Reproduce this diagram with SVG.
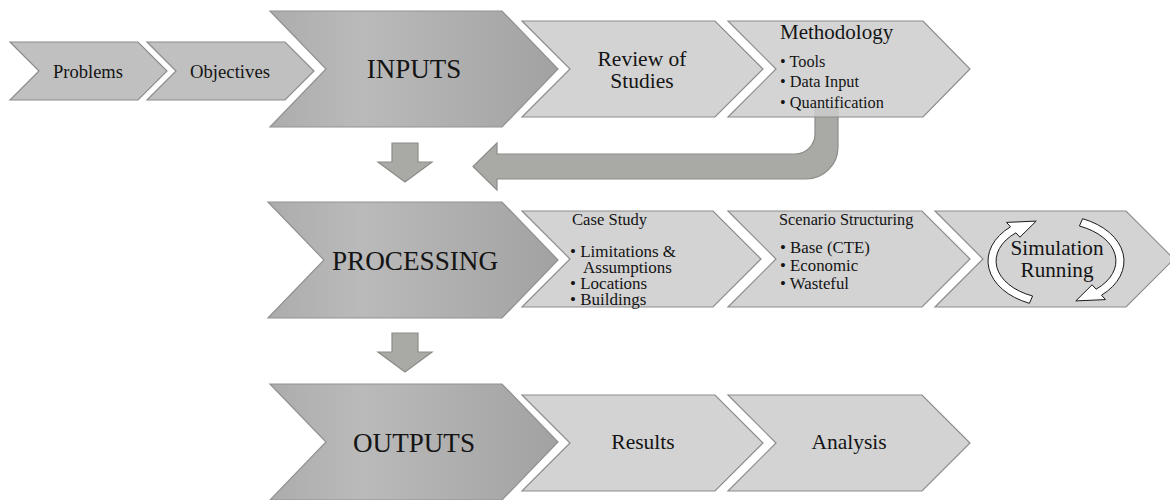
<svg xmlns="http://www.w3.org/2000/svg" width="1170" height="500" viewBox="0 0 1170 500" font-family="'Liberation Serif', 'DejaVu Serif', serif">
<defs>
<linearGradient id="gMain" x1="0" y1="0" x2="1" y2="0">
<stop offset="0" stop-color="#acacac"/>
<stop offset="0.32" stop-color="#bababa"/>
<stop offset="1" stop-color="#a2a2a2"/>
</linearGradient>
<style>
.main{fill:url(#gMain);stroke:#919191;stroke-width:1.2}
.small{fill:#c0c0c0;stroke:#8c8c8c;stroke-width:1.2}
.light{fill:#d3d3d3;stroke:#8c8c8c;stroke-width:1.2}
.conn{fill:#a9aaa6;stroke:#8b8c88;stroke-width:1.2}
.circ{fill:#ffffff;stroke:#1a1a1a;stroke-width:1}
.t{font-family:'Liberation Serif','DejaVu Serif',serif;fill:#141414}
.c{text-anchor:middle}
</style>
</defs>
<rect width="1170" height="500" fill="#ffffff"/>

<g id="problems">
<polygon class="small" points="10,42 138,42 167,71 138,100 10,100 39,71"/>
<text class="t c" x="88" y="78" font-size="18.5">Problems</text>
</g>
<g id="objectives">
<polygon class="small" points="147,42 285,42 314,71 285,100 147,100 176,71"/>
<text class="t c" x="230" y="78" font-size="18.7">Objectives</text>
</g>
<g id="inputs">
<polygon class="main" points="270,11 502,11 558,69 502,127 270,127 326,69"/>
<text class="t c" x="414" y="78" font-size="27">INPUTS</text>
</g>
<g id="review">
<polygon class="light" points="522,21 715,21 763,69 715,117 522,117 570,69"/>
<text class="t c" x="642" y="66" font-size="21.5">Review of</text>
<text class="t c" x="642" y="88" font-size="21.5">Studies</text>
</g>

<g id="connectors">
<path class="conn" d="M392,143 L418,143 L418,162 L432,162 L405,182 L378,162 L392,162 Z"/>
<path class="conn" d="M392,333 L418,333 L418,352 L432,352 L405,372 L378,352 L392,352 Z"/>
<path class="conn" d="M815,108 L838,108 L838,147 A32,32 0 0 1 806,179 L497,179 L497,190 L473,166.5 L497,143 L497,154 L795,154 A20,20 0 0 0 815,134 Z"/>
</g>

<g id="methodology">
<polygon class="light" style="fill:#cccccc;fill-opacity:0.85" points="728,21 923,21 970,69 923,117 728,117 776,69"/>
<text class="t" x="780" y="39" font-size="21">Methodology</text>
<text class="t" x="780" y="67" font-size="16.3">• Tools</text>
<text class="t" x="780" y="87" font-size="16.3">• Data Input</text>
<text class="t" x="780" y="108" font-size="16.3">• Quantification</text>
</g>

<g id="processing">
<polygon class="main" points="268,202 502,202 558,260 502,318 268,318 324,260"/>
<text class="t c" x="415" y="270" font-size="27.2">PROCESSING</text>
</g>
<g id="case-study">
<polygon class="light" points="522,211 713,211 761,259 713,307 522,307 570,259"/>
<text class="t" x="572" y="225" font-size="16.6">Case Study</text>
<text class="t" x="570" y="257" font-size="17">• Limitations &amp;</text>
<text class="t" x="583" y="273" font-size="17">Assumptions</text>
<text class="t" x="570" y="289" font-size="17">• Locations</text>
<text class="t" x="570" y="305" font-size="17">• Buildings</text>
</g>
<g id="scenario">
<polygon class="light" points="728,211 922,211 970,259 922,307 728,307 776,259"/>
<text class="t" x="779" y="225" font-size="16.3">Scenario Structuring</text>
<text class="t" x="780" y="253" font-size="16.8">• Base (CTE)</text>
<text class="t" x="780" y="271" font-size="16.8">• Economic</text>
<text class="t" x="780" y="289" font-size="16.8">• Wasteful</text>
</g>
<g id="simulation">
<polygon class="light" points="935,211 1126,211 1174,259 1126,307 935,307 983,259"/>
<path class="circ" d="M1029.4,303.3 A68,46 0 0 1 1010.5,226.8 L1006.5,222.4 L1036.2,221.1 L1019.9,237.2 L1015.9,232.8 A60,38 0 0 0 1032.6,296 Z"/>
<path class="circ" d="M1082.6,218.7 A68,46 0 0 1 1101.5,295.2 L1105.5,299.6 L1075.8,300.9 L1092.1,284.8 L1096.1,289.2 A60,38 0 0 0 1079.4,226 Z"/>
<text class="t c" x="1057" y="255" font-size="21.2">Simulation</text>
<text class="t c" x="1057" y="277" font-size="21.2">Running</text>
</g>

<g id="outputs">
<polygon class="main" points="270,384 502,384 558,442 502,500 270,500 326,442"/>
<text class="t c" x="414" y="452" font-size="27.1">OUTPUTS</text>
</g>
<g id="results">
<polygon class="light" points="522,395 715,395 763,443 715,491 522,491 570,443"/>
<text class="t c" x="643" y="449" font-size="21.5">Results</text>
</g>
<g id="analysis">
<polygon class="light" points="728,395 922,395 970,443 922,491 728,491 776,443"/>
<text class="t c" x="849" y="449" font-size="21.5">Analysis</text>
</g>
</svg>
